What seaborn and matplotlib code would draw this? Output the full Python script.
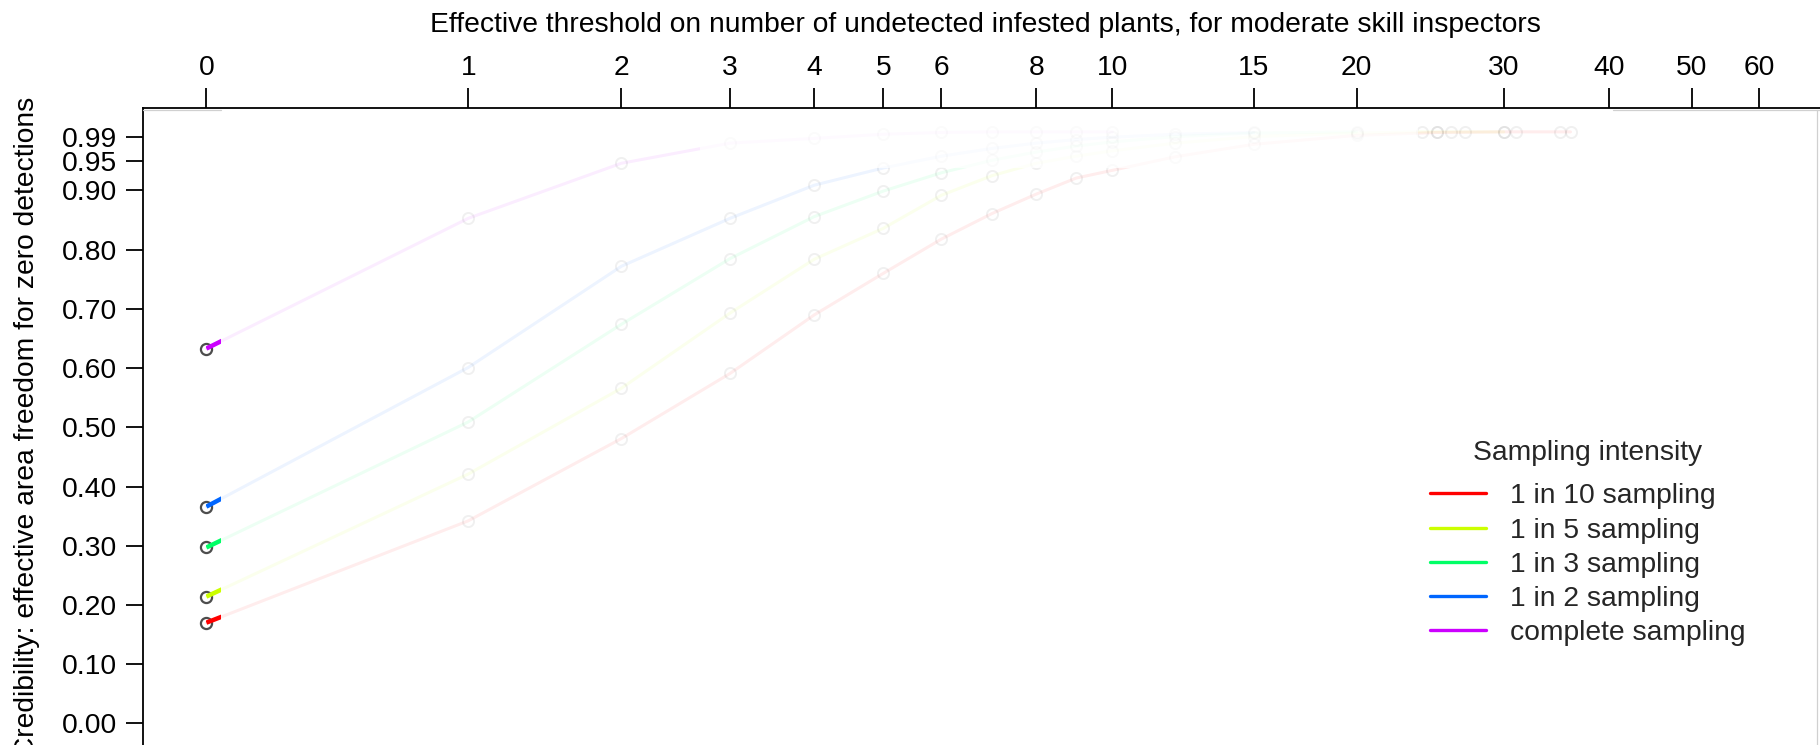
import numpy as np
import pandas as pd
import matplotlib
matplotlib.use("Agg")
import matplotlib.pyplot as plt
import seaborn as sns
from matplotlib.patches import Rectangle
from matplotlib.lines import Line2D
from matplotlib.path import Path

# ---------------- data ----------------
series_labels = ["1 in 10 sampling", "1 in 5 sampling", "1 in 3 sampling",
                 "1 in 2 sampling", "complete sampling"]
series_colors = ["#FF0000", "#CCFF00", "#00FF66", "#0066FF", "#CC00FF"]

n_1in10 = [0, 1, 2, 3, 4, 5, 6, 7, 8, 9, 10, 12, 15, 20, 25, 30, 31, 35, 36]
y_1in10 = [0.170, 0.342, 0.481, 0.591, 0.690, 0.760, 0.818, 0.861, 0.894, 0.921,
           0.934, 0.957, 0.978, 0.993, 0.998, 0.999, 0.999, 0.999, 0.999]

n_1in5 = [0, 1, 2, 3, 4, 5, 6, 7, 8, 9, 10, 12, 15, 20, 24, 25, 26, 27, 30]
y_1in5 = [0.214, 0.421, 0.566, 0.693, 0.784, 0.836, 0.892, 0.925, 0.946, 0.958,
          0.967, 0.980, 0.991, 0.997, 0.999, 0.999, 0.999, 0.999, 0.999]

n_1in3 = [0, 1, 2, 3, 4, 5, 6, 7, 8, 9, 10, 12, 15, 20]
y_1in3 = [0.297, 0.509, 0.674, 0.785, 0.856, 0.899, 0.930, 0.951, 0.965, 0.975,
          0.982, 0.991, 0.997, 0.999]

n_1in2 = [0, 1, 2, 3, 4, 5, 6, 7, 8, 9, 10, 12, 15]
y_1in2 = [0.366, 0.601, 0.772, 0.853, 0.909, 0.938, 0.958, 0.971, 0.980, 0.986,
          0.990, 0.995, 0.998]

n_complete = [0, 1, 2, 3, 4, 5, 6, 7, 8, 9, 10]
y_complete = [0.633, 0.853, 0.946, 0.980, 0.988, 0.995, 0.998, 0.999, 0.999, 0.999, 0.999]

x_ticks = [0, 1, 2, 3, 4, 5, 6, 8, 10, 15, 20, 30, 40, 50, 60]
y_ticks = [0.00, 0.10, 0.20, 0.30, 0.40, 0.50, 0.60, 0.70, 0.80, 0.90, 0.95, 0.99]

x_title = "Effective threshold on number of undetected infested plants, for moderate skill inspectors"
y_title = "Credibility: effective area freedom for zero detections"
legend_title = "Sampling intensity"

all_n = [n_1in10, n_1in5, n_1in3, n_1in2, n_complete]
all_y = [y_1in10, y_1in5, y_1in3, y_1in2, y_complete]

df = pd.concat([pd.DataFrame({"n": n, "cred": y, "intensity": lab})
                for n, y, lab in zip(all_n, all_y, series_labels)], ignore_index=True)

# ---------------- style ----------------
sns.set_theme(style="white")
plt.rcParams["font.family"] = ["Liberation Sans", "DejaVu Sans"]
FS = 20.3

W, H, DPI = 1820, 745, 100
fig = plt.figure(figsize=(W / DPI, H / DPI), dpi=DPI)
fig.patch.set_facecolor("white")

# axes placement (pixels from top-left)
ax_left, ax_right = 142.9, 1853.5
ax_top, ax_bot = 107.6, 747.0
ax = fig.add_axes([ax_left / W, (H - ax_bot) / H,
                   (ax_right - ax_left) / W, (ax_bot - ax_top) / H])
ax.set_facecolor("white")

ax.set_xscale("function", functions=(np.log1p, np.expm1))
ax.set_xlim(np.expm1(-0.168), np.expm1(4.36))
ax.set_ylim(-0.04, 1.04)

# region that the reference renders almost invisibly (upper plateau)
(fx0, fy0), (fx1, fy1) = ax.transAxes.inverted().transform(
    ax.transData.transform([[2.69, 0.938], [23.7, 1.2]]))
sq = [Path.MOVETO, Path.LINETO, Path.LINETO, Path.LINETO, Path.CLOSEPOLY]
hole_path = Path([(0, 0), (1, 0), (1, 1.2), (0, 1.2), (0, 0),
                  (fx0, fy0), (fx0, fy1), (fx1, fy1), (fx1, fy0), (fx0, fy0)], sq + sq)
fade_path = Path([(fx0, fy0), (fx1, fy0), (fx1, fy1), (fx0, fy1), (fx0, fy0)], sq)

line_kw = dict(data=df, x="n", y="cred", hue="intensity", hue_order=series_labels,
               palette=series_colors, estimator=None, sort=False, legend=False,
               marker="o", ms=8, mfc="none", mec="#333333", mew=1.4, lw=2.2, ax=ax)

# faint curves with faint markers
k0 = len(ax.lines)
sns.lineplot(alpha=0.07, **line_kw)
for ln in ax.lines[k0:]:
    ln.set_clip_path(hole_path, ax.transAxes)
k1 = len(ax.lines)
sns.lineplot(alpha=0.018, **line_kw)
for ln in ax.lines[k1:]:
    ln.set_clip_path(fade_path, ax.transAxes)

# bright start of each curve
for n, y, c in zip(all_n, all_y, series_colors):
    ln, = ax.plot(n, y, color=c, lw=3.2, solid_capstyle="butt", zorder=4)
    clip = Rectangle((0, -1), 0.04, 3, transform=ax.transData)
    ln.set_clip_path(clip)
    ax.plot(n[:1], y[:1], linestyle="none", marker="o", ms=8, mfc="none",
            mec="#4d4d4d", mew=1.6, zorder=3)

# axes styling
for side in ["right", "bottom"]:
    ax.spines[side].set_visible(False)
for side in ["left", "top"]:
    ax.spines[side].set_color("black")
    ax.spines[side].set_linewidth(1.3)

ax.xaxis.tick_top()
ax.set_xticks(x_ticks)
ax.set_xticklabels([str(t) for t in x_ticks])
ax.xaxis.set_minor_locator(matplotlib.ticker.NullLocator())
ax.tick_params(axis="x", which="major", top=True, bottom=False, labeltop=True,
               labelbottom=False, direction="out", length=14.4, width=1.3,
               pad=4.7, labelsize=FS, colors="black")
ax.set_yticks(y_ticks)
ax.set_yticklabels([f"{t:.2f}" for t in y_ticks])
ax.tick_params(axis="y", which="major", left=True, direction="out", length=12.2,
               width=1.3, pad=6.3, labelsize=FS, colors="black")

ax.xaxis.set_label_position("top")
ax.set_xlabel(x_title, fontsize=FS, color="black")
ax.xaxis.set_label_coords(0.4923, 1.119)
ax.set_ylabel(y_title, fontsize=FS, color="black")
ax.yaxis.set_label_coords(-0.0602, 0.5)

handles = [Line2D([], [], color=c, lw=2.4) for c in series_colors]
leg = ax.legend(handles, series_labels, title=legend_title, frameon=False,
                fontsize=FS, title_fontsize=FS, handlelength=1.98,
                handletextpad=0.86, labelspacing=0.29, borderpad=0,
                borderaxespad=0, loc="upper left",
                bbox_to_anchor=(1430 / W, 1 - 440 / H),
                bbox_transform=fig.transFigure)
leg._legend_box.sep = 12.5

# faint grey rendering edges seen in the reference
fig.add_artist(Line2D([1817 / W, 1817 / W], [0, 1 - 110 / H], transform=fig.transFigure,
                      color="#d0d0d0", lw=0.9))
fig.add_artist(Line2D([1613 / W, 1 - 0.5 / W], [1 - 110 / H, 1 - 110 / H],
                      transform=fig.transFigure, color="#d0d0d0", lw=0.9))
fig.add_artist(Line2D([143 / W, 221 / W], [1 - 110 / H, 1 - 110 / H],
                      transform=fig.transFigure, color="#d0d0d0", lw=0.9))

fig.savefig("out.png", dpi=DPI, facecolor="white")
